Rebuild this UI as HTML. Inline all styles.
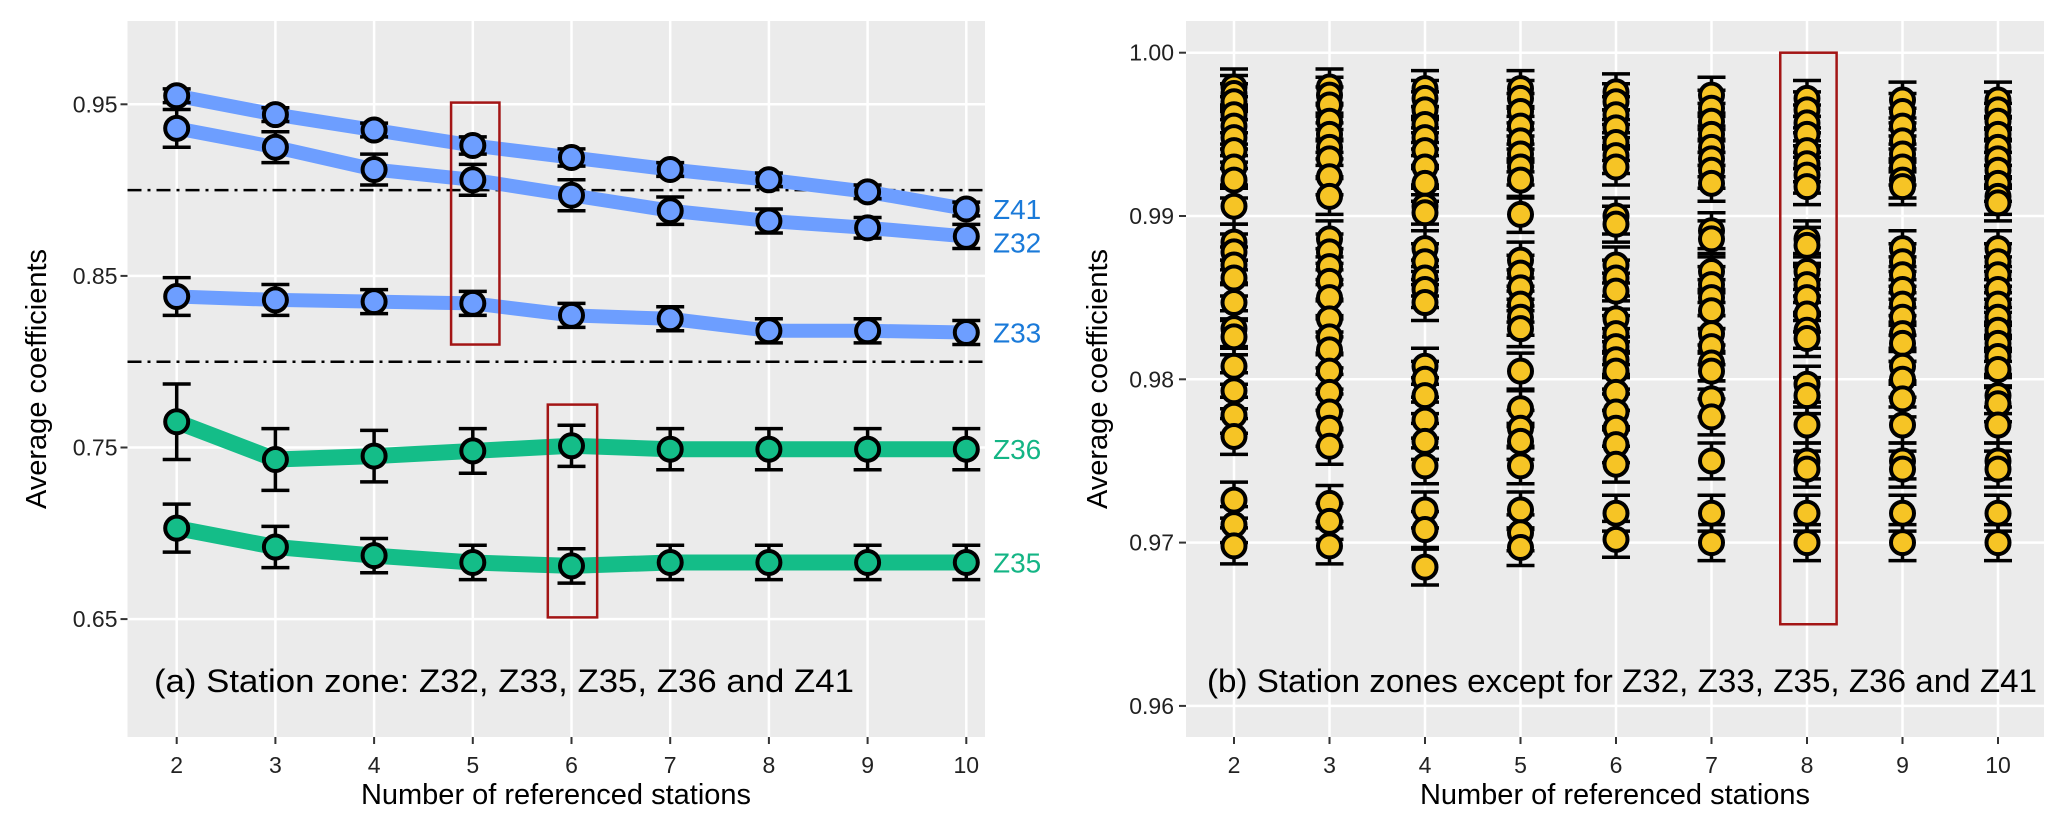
<!DOCTYPE html>
<html><head><meta charset="utf-8"><style>
html,body{margin:0;padding:0;background:#fff}
svg{display:block}
text{font-family:"Liberation Sans",Arial,sans-serif}
</style></head><body>
<svg id="chart" width="2067" height="833" xmlns="http://www.w3.org/2000/svg"></svg>
<script>
// ---------- Panel (a) data ----------
const xCats = [2,3,4,5,6,7,8,9,10];
const z41 = [0.955,0.944,0.935,0.926,0.919,0.912,0.906,0.899,0.889];
const z41err = [0.004,0.004,0.004,0.005,0.005,0.004,0.004,0.004,0.004];
const z32 = [0.936,0.925,0.912,0.906,0.897,0.888,0.882,0.878,0.873];
const z32err = [0.011,0.009,0.009,0.009,0.009,0.008,0.007,0.006,0.007];
const z33 = [0.838,0.836,0.835,0.834,0.827,0.825,0.818,0.818,0.817];
const z33err = [0.011,0.009,0.007,0.007,0.007,0.007,0.007,0.007,0.007];
const z36 = [0.765,0.743,0.745,0.748,0.751,0.749,0.749,0.749,0.749];
const z36err = [0.022,0.018,0.015,0.013,0.012,0.012,0.012,0.012,0.012];
const z35 = [0.703,0.692,0.687,0.683,0.681,0.683,0.683,0.683,0.683];
const z35err = [0.014,0.012,0.010,0.010,0.010,0.010,0.010,0.010,0.010];
const leftTicks = [0.95,0.85,0.75,0.65];
const leftTickLabels = ["0.95","0.85","0.75","0.65"];
const refLines = [0.90,0.80];
// ---------- Panel (b) data ----------
const rightTicks = [1.00,0.99,0.98,0.97,0.96];
const rightTickLabels = ["1.00","0.99","0.98","0.97","0.96"];
const b2 = [0.9979,0.9975,0.9970,0.9962,0.9955,0.9948,0.9940,0.9930,0.9922,0.9906,0.9884,0.9878,0.9870,0.9862,0.9847,0.9831,0.9826,0.9808,0.9793,0.9778,0.9765,0.9726,0.9711,0.9698];
const b3 = [0.9979,0.9974,0.9968,0.9958,0.9950,0.9942,0.9935,0.9924,0.9912,0.9886,0.9878,0.9869,0.9860,0.9850,0.9837,0.9826,0.9818,0.9805,0.9792,0.9780,0.9770,0.9759,0.9724,0.9713,0.9698];
const b4 = [0.9978,0.9972,0.9965,0.9956,0.9948,0.9940,0.9930,0.9920,0.9906,0.9902,0.9880,0.9872,0.9862,0.9855,0.9847,0.9808,0.9800,0.9790,0.9775,0.9762,0.9747,0.9720,0.9708,0.9685];
const b5 = [0.9978,0.9972,0.9964,0.9955,0.9946,0.9938,0.9930,0.9922,0.9901,0.9873,0.9865,0.9856,0.9846,0.9838,0.9831,0.9805,0.9782,0.9770,0.9762,0.9747,0.9720,0.9706,0.9697];
const b6 = [0.9976,0.9970,0.9962,0.9954,0.9945,0.9937,0.9930,0.9900,0.9895,0.9870,0.9862,0.9854,0.9837,0.9828,0.9820,0.9812,0.9805,0.9792,0.9780,0.9770,0.9760,0.9748,0.9718,0.9702];
const b7 = [0.9974,0.9966,0.9958,0.9950,0.9942,0.9935,0.9928,0.9920,0.9891,0.9886,0.9866,0.9858,0.9850,0.9842,0.9828,0.9820,0.9810,0.9805,0.9788,0.9777,0.9750,0.9718,0.9700];
const b8 = [0.9972,0.9965,0.9957,0.9950,0.9940,0.9932,0.9925,0.9918,0.9886,0.9882,0.9866,0.9858,0.9850,0.9840,0.9830,0.9825,0.9797,0.9790,0.9772,0.9750,0.9745,0.9718,0.9700];
const b9 = [0.9971,0.9964,0.9955,0.9946,0.9938,0.9930,0.9922,0.9918,0.9880,0.9872,0.9864,0.9855,0.9846,0.9838,0.9828,0.9822,0.9808,0.9800,0.9788,0.9772,0.9750,0.9745,0.9718,0.9700];
const b10 = [0.9971,0.9965,0.9958,0.9950,0.9942,0.9935,0.9928,0.9920,0.9912,0.9908,0.9880,0.9872,0.9864,0.9855,0.9846,0.9838,0.9830,0.9822,0.9814,0.9806,0.9790,0.9785,0.9772,0.9750,0.9745,0.9718,0.9700];
const bErr = 0.0011;

const NS="http://www.w3.org/2000/svg";
const svg=document.getElementById('chart');
function mk(tag,attrs,parent){const e=document.createElementNS(NS,tag);for(const k in attrs)e.setAttribute(k,attrs[k]);(parent||svg).appendChild(e);return e;}

const L={x0:127.5,x1:985,y0:21,y1:737};
const R={x0:1186,x1:2044,y0:21,y1:737};
const lx=v=>176.7+(v-2)*98.7;
const ly=v=>104.3+(0.95-v)*1716;
const rx=v=>1234+(v-2)*95.5;
const ry=v=>52.7+(1-v)*16330;

// ---------- Panel A ----------
const gA=mk('g',{});

const bgA=mk('rect',{x:L.x0,y:L.y0,width:L.x1-L.x0,height:L.y1-L.y0,fill:'#ebebeb'},gA);

xCats.forEach(c=>{const l=mk('line',{x1:lx(c),x2:lx(c),y1:L.y0,y2:L.y1,stroke:'#fff','stroke-width':2.5},gA);
});
leftTicks.forEach((t,i)=>{
  const l=mk('line',{x1:L.x0,x2:L.x1,y1:ly(t),y2:ly(t),stroke:'#fff','stroke-width':2.5},gA);
  
  const tk=mk('line',{x1:L.x0-7,x2:L.x0,y1:ly(t),y2:ly(t),stroke:'#333','stroke-width':2},gA);
  
  const tx=mk('text',{x:L.x0-10,y:ly(t)+8,'text-anchor':'end','font-size':23,fill:'#222'},gA);
  tx.textContent=leftTickLabels[i];
});
refLines.forEach(v=>{const l=mk('line',{x1:L.x0,x2:L.x1,y1:ly(v),y2:ly(v),stroke:'#000','stroke-width':2.5,'stroke-dasharray':'14 6 3 6'},gA);
});
xCats.forEach(c=>{
  const tk=mk('line',{x1:lx(c),x2:lx(c),y1:L.y1,y2:L.y1+7,stroke:'#333','stroke-width':2},gA);
  
  const tx=mk('text',{x:lx(c),y:773,'text-anchor':'middle','font-size':23,fill:'#222'},gA);
  tx.textContent=c;
});
const seriesA=[
 {name:'z41',v:z41,e:z41err,line:'#6d9eff',lab:'#1a7ad9',label:'Z41',dy:0},
 {name:'z32',v:z32,e:z32err,line:'#6d9eff',lab:'#1a7ad9',label:'Z32',dy:6},
 {name:'z33',v:z33,e:z33err,line:'#6d9eff',lab:'#1a7ad9',label:'Z33',dy:0},
 {name:'z36',v:z36,e:z36err,line:'#14bd88',lab:'#14b585',label:'Z36',dy:0},
 {name:'z35',v:z35,e:z35err,line:'#14bd88',lab:'#14b585',label:'Z35',dy:0}];
seriesA.forEach(s=>{
  const w=(s.name==='z35'||s.name==='z36')?16:14;
  const p=mk('polyline',{points:s.v.map((v,i)=>lx(xCats[i])+','+ly(v)).join(' '),fill:'none',stroke:s.line,'stroke-width':w,'stroke-linejoin':'round'},gA);
  
});
seriesA.forEach(s=>{
  s.v.forEach((v,i)=>{
    const x=lx(xCats[i]),yt=ly(v+s.e[i]),yb=ly(v-s.e[i]);
    const g=mk('g',{},gA);
    
    mk('line',{x1:x,x2:x,y1:yt,y2:yb,stroke:'#000','stroke-width':3.5},g);
    mk('line',{x1:x-14,x2:x+14,y1:yt,y2:yt,stroke:'#000','stroke-width':3.5},g);
    mk('line',{x1:x-14,x2:x+14,y1:yb,y2:yb,stroke:'#000','stroke-width':3.5},g);
  });
  s.v.forEach((v,i)=>{
    const c=mk('circle',{cx:lx(xCats[i]),cy:ly(v),r:11.5,fill:s.line,stroke:'#000','stroke-width':4},gA);
    
  });
  const t=mk('text',{x:993,y:ly(s.v[s.v.length-1])+10+s.dy,'font-size':28,fill:s.lab},svg);
  t.textContent=s.label;
});
const boxA1=mk('rect',{x:lx(4.78),y:ly(0.951),width:lx(5.27)-lx(4.78),height:ly(0.810)-ly(0.951),fill:'none',stroke:'#a31515','stroke-width':2.5},gA);

const boxA2=mk('rect',{x:lx(5.76),y:ly(0.775),width:lx(6.26)-lx(5.76),height:ly(0.651)-ly(0.775),fill:'none',stroke:'#a31515','stroke-width':2.5},gA);

const capA=mk('text',{x:154,y:692,'font-size':32,fill:'#000',textLength:700,lengthAdjust:'spacingAndGlyphs'},gA);

capA.textContent='(a) Station zone: Z32, Z33, Z35, Z36 and Z41';
const ytA=mk('text',{x:0,y:0,'font-size':29,fill:'#000','text-anchor':'middle',transform:'translate(46,379) rotate(-90)'},svg);
ytA.textContent='Average coefficients';
const xtA=mk('text',{x:556,y:804,'font-size':29,fill:'#000','text-anchor':'middle'},svg);
xtA.textContent='Number of referenced stations';

// ---------- Panel B ----------
const gB=mk('g',{});

const bgB=mk('rect',{x:R.x0,y:R.y0,width:R.x1-R.x0,height:R.y1-R.y0,fill:'#ebebeb'},gB);

xCats.forEach(c=>{const l=mk('line',{x1:rx(c),x2:rx(c),y1:R.y0,y2:R.y1,stroke:'#fff','stroke-width':2.5},gB);
});
rightTicks.forEach((t,i)=>{
  const l=mk('line',{x1:R.x0,x2:R.x1,y1:ry(t),y2:ry(t),stroke:'#fff','stroke-width':2.5},gB);
  
  const tk=mk('line',{x1:R.x0-7,x2:R.x0,y1:ry(t),y2:ry(t),stroke:'#333','stroke-width':2},gB);
  
  const tx=mk('text',{x:R.x0-12,y:ry(t)+8,'text-anchor':'end','font-size':23,fill:'#222'},gB);
  tx.textContent=rightTickLabels[i];
});
xCats.forEach(c=>{
  const tk=mk('line',{x1:rx(c),x2:rx(c),y1:R.y1,y2:R.y1+7,stroke:'#333','stroke-width':2},gB);
  
  const tx=mk('text',{x:rx(c),y:773,'text-anchor':'middle','font-size':23,fill:'#222'},gB);
  tx.textContent=c;
});
const cols=[b2,b3,b4,b5,b6,b7,b8,b9,b10];
cols.forEach((arr,ci)=>{
  const x=rx(xCats[ci]);
  arr.forEach(v=>{
    const yt=ry(v+bErr),yb=ry(v-bErr);
    const g=mk('g',{},gB);
    
    mk('line',{x1:x,x2:x,y1:yt,y2:yb,stroke:'#000','stroke-width':3.5},g);
    mk('line',{x1:x-14,x2:x+14,y1:yt,y2:yt,stroke:'#000','stroke-width':3.5},g);
    mk('line',{x1:x-14,x2:x+14,y1:yb,y2:yb,stroke:'#000','stroke-width':3.5},g);
  });
  arr.forEach(v=>{
    const c=mk('circle',{cx:x,cy:ry(v),r:11.5,fill:'#f6c425',stroke:'#000','stroke-width':4},gB);
    
  });
});
const boxB=mk('rect',{x:rx(7.72),y:ry(1.0),width:rx(8.31)-rx(7.72),height:ry(0.965)-ry(1.0),fill:'none',stroke:'#a31515','stroke-width':2.5},gB);

const capB=mk('text',{x:1207,y:692,'font-size':32,fill:'#000',textLength:830,lengthAdjust:'spacingAndGlyphs'},gB);

capB.textContent='(b) Station zones except for Z32, Z33, Z35, Z36 and Z41';
const ytB=mk('text',{x:0,y:0,'font-size':29,fill:'#000','text-anchor':'middle',transform:'translate(1107,379) rotate(-90)'},svg);
ytB.textContent='Average coefficients';
const xtB=mk('text',{x:1615,y:804,'font-size':29,fill:'#000','text-anchor':'middle'},svg);
xtB.textContent='Number of referenced stations';
</script>
</body></html>
